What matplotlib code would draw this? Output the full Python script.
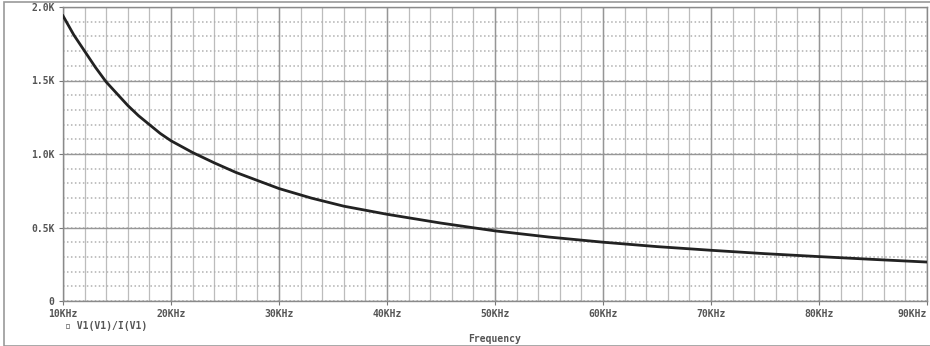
import matplotlib.pyplot as plt
import numpy as np
from matplotlib.patches import Rectangle

# frequency (kHz) and V1(V1)/I(V1) in kOhm
freq_khz = [10, 11, 12, 13, 14, 15, 16, 17, 18, 19, 20, 22, 24, 26, 28, 30,
            33, 36, 40, 45, 50, 55, 60, 65, 70, 75, 80, 85, 90]
imped_k = [1.94, 1.81, 1.70, 1.59, 1.49, 1.41, 1.33, 1.26, 1.20, 1.14, 1.09, 1.01,
           0.94, 0.875, 0.82, 0.765, 0.70, 0.645, 0.59, 0.53, 0.477, 0.435, 0.40,
           0.37, 0.345, 0.322, 0.302, 0.283, 0.265]

x_ticks = [10, 20, 30, 40, 50, 60, 70, 80, 90]
x_labels = ['10KHz', '20KHz', '30KHz', '40KHz', '50KHz', '60KHz', '70KHz', '80KHz', '90KHz']
y_ticks = [0, 0.5, 1.0, 1.5, 2.0]
y_labels = ['0', '0.5K', '1.0K', '1.5K', '2.0K']

fig = plt.figure(figsize=(9.3, 3.46), dpi=100)
ax = fig.add_axes([63 / 930, 45 / 346, 864 / 930, 294 / 346])

# grid like the PSpice probe window
for xv in np.arange(10, 90.1, 2):
    ax.axvline(xv, color='#bcbcbc', lw=0.9, zorder=0)
for yv in np.arange(0, 2.01, 0.1):
    ax.axhline(yv, color='#b0b0b0', lw=1.1, ls=(0, (1, 1.6)), zorder=0)
for xv in x_ticks:
    ax.axvline(xv, color='#969696', lw=1.0, zorder=0)
for yv in y_ticks:
    ax.axhline(yv, color='#969696', lw=1.0, zorder=0)

ax.plot(freq_khz, imped_k, color='#222222', lw=2.0, zorder=3)

ax.set_xlim(10, 90)
ax.set_ylim(0, 2.0)
ax.set_xticks(x_ticks)
ax.set_yticks(y_ticks)
tfont = dict(family='DejaVu Sans Mono', size=7, weight='bold', color='#555555')
ax.set_xticklabels(x_labels, **tfont)
ax.set_yticklabels(y_labels, **tfont)
ax.get_xticklabels()[-1].set_horizontalalignment('right')
ax.tick_params(length=3, width=0.8, color='#777777', pad=3)
for s in ax.spines.values():
    s.set_color('#8a8a8a')
    s.set_linewidth(1.0)

fig.text(65 / 930, 1 - 326 / 346, '\u25ab V1(V1)/I(V1)', ha='left', va='center', **tfont)
fig.text(495 / 930, 1 - 339 / 346, 'Frequency', ha='center', va='center', **tfont)

fig.patches.append(Rectangle((4 / 930, 0), 1, 0.995, transform=fig.transFigure,
                             fill=False, edgecolor='#999999', lw=1.2))

fig.savefig('out.png', dpi=100)
